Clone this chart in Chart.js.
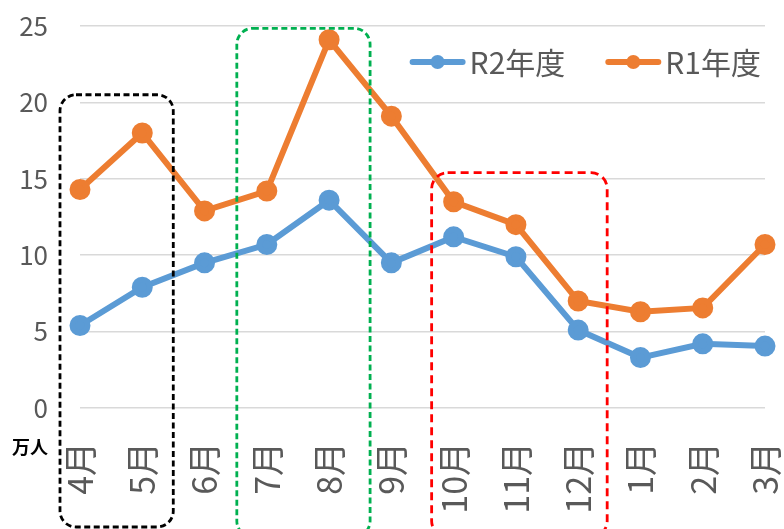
<!DOCTYPE html>
<html lang="ja">
<head>
    <meta charset="UTF-8">
    <title>月別 R2年度 / R1年度</title>
    <script src="https://cdn.jsdelivr.net/npm/chart.js"></script>
    <style>
        html, body {
            margin: 0;
            padding: 0;
            background: #ffffff;
        }
        #wrap {
            width: 784px;
            height: 529px;
        }
    </style>
</head>
<body>
    <div id="wrap">
        <canvas id="myChart" width="784" height="529"></canvas>
    </div>

    <script>
        // data (unit: 万人)
        const months = ['4月', '5月', '6月', '7月', '8月', '9月', '10月', '11月', '12月', '1月', '2月', '3月'];
        const r2Values = [5.4, 7.9, 9.5, 10.7, 13.6, 9.5, 11.2, 9.9, 5.1, 3.3, 4.2, 4.05];
        const r1Values = [14.3, 18.0, 12.9, 14.2, 24.1, 19.1, 13.5, 12.0, 7.0, 6.3, 6.55, 10.7];
        const yTicks = [0, 5, 10, 15, 20, 25];

        const FONT = "'Noto Sans CJK JP', 'Noto Sans', sans-serif";
        const TEXT_GREY = '#595959';

        // dashed rounded boxes that mark month groups
        const highlightBoxes = [
            { from: 0, to: 1, top: 20.5, padL: 20, padR: 31, bottom: 527, color: '#000000', dash: [6, 3.5] },
            { from: 3, to: 4, top: 24.85, padL: 30, padR: 41, bottom: 537, color: '#00b050', dash: [6, 3.5] },
            { from: 6, to: 8, top: 15.4, padL: 22, padR: 29, bottom: 537, color: '#ff0000', dash: [8, 5] }
        ];

        const boxPlugin = {
            id: 'boxes',
            afterDatasetsDraw(chart) {
                const ctx = chart.ctx;
                const xs = chart.scales.x;
                const ys = chart.scales.y;
                ctx.save();
                highlightBoxes.forEach(b => {
                    const left = xs.getPixelForValue(b.from) - b.padL;
                    const right = xs.getPixelForValue(b.to) + b.padR;
                    const top = ys.getPixelForValue(b.top);
                    ctx.beginPath();
                    ctx.roundRect(left, top, right - left, b.bottom - top, 16);
                    ctx.lineWidth = 2.8;
                    ctx.strokeStyle = b.color;
                    ctx.setLineDash(b.dash);
                    ctx.stroke();
                });
                ctx.restore();
            }
        };

        // legend drawn as line + dot inside the plot, top right
        const legendPlugin = {
            id: 'lineLegend',
            afterDraw(chart) {
                const ctx = chart.ctx;
                const sets = chart.data.datasets;
                const lineLen = 56;
                const gapText = 4;
                const gapItem = 40;
                const y = 62;
                ctx.save();
                ctx.font = '30px ' + FONT;
                ctx.textBaseline = 'middle';
                let total = 0;
                const widths = sets.map(d => ctx.measureText(d.label).width);
                widths.forEach((w, i) => { total += lineLen + gapText + w + (i ? gapItem : 0); });
                let x = 761 - total;
                sets.forEach((d, i) => {
                    if (i) x += gapItem;
                    ctx.strokeStyle = d.borderColor;
                    ctx.lineWidth = 6;
                    ctx.lineCap = 'round';
                    ctx.beginPath();
                    ctx.moveTo(x + 3, y);
                    ctx.lineTo(x + lineLen - 3, y);
                    ctx.stroke();
                    ctx.fillStyle = d.borderColor;
                    ctx.beginPath();
                    ctx.arc(x + lineLen / 2, y, 7, 0, Math.PI * 2);
                    ctx.fill();
                    x += lineLen + gapText;
                    ctx.fillStyle = TEXT_GREY;
                    ctx.fillText(d.label, x, y + 1);
                    x += widths[i];
                });
                // unit label
                ctx.font = 'bold 18px ' + FONT;
                ctx.fillStyle = '#000000';
                ctx.textBaseline = 'middle';
                ctx.fillText('万人', 12, 447);
                ctx.restore();
            }
        };

        const ctx = document.getElementById('myChart').getContext('2d');
        const myChart = new Chart(ctx, {
            type: 'line',
            data: {
                labels: months,
                datasets: [{
                    label: 'R2年度',
                    data: r2Values,
                    borderColor: '#5b9bd5',
                    backgroundColor: '#5b9bd5',
                    borderWidth: 6,
                    pointRadius: 7.5,
                    pointHoverRadius: 7.5,
                    tension: 0,
                    clip: false
                },
                {
                    label: 'R1年度',
                    data: r1Values,
                    borderColor: '#ed7d31',
                    backgroundColor: '#ed7d31',
                    borderWidth: 6,
                    pointRadius: 7.5,
                    pointHoverRadius: 7.5,
                    tension: 0,
                    clip: false
                }]
            },
            options: {
                responsive: false,
                animation: false,
                events: [],
                layout: {
                    padding: { top: 26, right: 19, left: 0, bottom: 0 }
                },
                plugins: {
                    legend: { display: false },
                    tooltip: { enabled: false }
                },
                scales: {
                    x: {
                        offset: false,
                        grid: { display: false, drawTicks: false },
                        border: { display: false },
                        ticks: {
                            color: TEXT_GREY,
                            font: { family: FONT, size: 34 },
                            minRotation: 90,
                            maxRotation: 90,
                            autoSkip: false,
                            padding: 34
                        },
                        afterFit(scale) {
                            scale.height = 121;
                            scale.paddingLeft = 0;
                            scale.paddingRight = 0;
                        }
                    },
                    y: {
                        min: 0,
                        max: 25,
                        afterBuildTicks(scale) {
                            scale.ticks = yTicks.map(v => ({ value: v }));
                        },
                        grid: { color: '#d9d9d9', lineWidth: 1.5, drawTicks: false },
                        border: { display: false },
                        ticks: {
                            color: TEXT_GREY,
                            font: { family: FONT, size: 26 },
                            padding: 32
                        },
                        afterFit(scale) {
                            scale.width = 80;
                            scale.paddingTop = 0;
                            scale.paddingBottom = 0;
                        }
                    }
                }
            },
            plugins: [boxPlugin, legendPlugin]
        });
    </script>
</body>
</html>
